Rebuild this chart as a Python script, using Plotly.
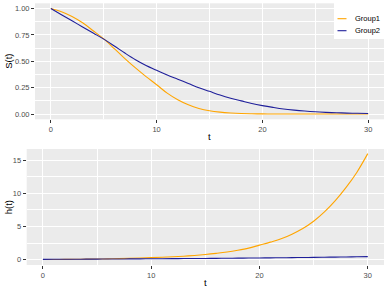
import plotly.graph_objects as go

# ---- data ----
t = list(range(0, 31))
group_names = ["Group1", "Group2"]
S_group1 = [1.0, 0.97, 0.925, 0.865, 0.79, 0.712, 0.62, 0.525, 0.437, 0.355,
            0.278, 0.198, 0.135, 0.087, 0.053, 0.031, 0.018, 0.010, 0.005, 0.0025,
            0.001, 0.0005, 0.0002, 0.0001, 0.0, 0.0, 0.0, 0.0, 0.0, 0.0, 0.0]
S_group2 = [1.0, 0.942, 0.884, 0.826, 0.768, 0.71, 0.645, 0.578, 0.515, 0.46,
            0.415, 0.37, 0.33, 0.29, 0.25, 0.215, 0.18, 0.15, 0.125, 0.10,
            0.08, 0.063, 0.048, 0.037, 0.028, 0.021, 0.016, 0.012, 0.009, 0.007, 0.005]
h_group1 = [0.02, 0.03, 0.045, 0.06, 0.08, 0.10, 0.13, 0.16, 0.20, 0.25,
            0.31, 0.37, 0.44, 0.53, 0.64, 0.78, 0.95, 1.15, 1.42, 1.75,
            2.2, 2.65, 3.15, 3.85, 4.7, 5.8, 7.2, 8.9, 10.9, 13.2, 16.0]
h_group2 = [0.05, 0.058, 0.066, 0.074, 0.082, 0.09, 0.1, 0.11, 0.12, 0.13,
            0.14, 0.15, 0.16, 0.17, 0.18, 0.19, 0.203, 0.216, 0.23, 0.245,
            0.26, 0.277, 0.294, 0.312, 0.331, 0.35, 0.371, 0.392, 0.414, 0.437, 0.46]
x_ticks = [0, 10, 20, 30]
S_ticks = [0.0, 0.25, 0.5, 0.75, 1.0]
h_ticks = [0, 5, 10, 15]

# ---- styles ----
COL1 = "#FFA500"
COL2 = "#1F1F9A"
PANEL = "#EBEBEB"
FONT = "Liberation Sans, Arial, sans-serif"
W, H = 388, 291

fig = go.Figure()
for name, col, s, h in [(group_names[0], COL1, S_group1, h_group1),
                        (group_names[1], COL2, S_group2, h_group2)]:
    fig.add_trace(go.Scatter(x=t, y=s, mode="lines", name=name, xaxis="x", yaxis="y",
                             line=dict(color=col, width=1.1, shape="spline"), showlegend=False))
    fig.add_trace(go.Scatter(x=t, y=h, mode="lines", name=name, xaxis="x2", yaxis="y2",
                             line=dict(color=col, width=1.1, shape="spline"), showlegend=False))

def px(x):
    return x / W

def py(y):
    return 1 - y / H

common = dict(showline=False, zeroline=False, ticks="outside", ticklen=3, tickwidth=0.6,
              tickcolor="#333333", showgrid=True, gridcolor="white", gridwidth=1.1,
              tickfont=dict(family=FONT, size=7.5, color="#4D4D4D"), automargin=False,
              fixedrange=True)

fig.update_layout(
    width=W, height=H, margin=dict(l=0, r=0, t=0, b=0),
    paper_bgcolor="white", plot_bgcolor=PANEL, template="none",
    hovermode=False,
    xaxis=dict(domain=[px(35), px(384)], range=[-1.5, 31.5], anchor="y",
               tickvals=x_ticks, ticktext=[str(v) for v in x_ticks],
               minor=dict(dtick=5, tick0=0, showgrid=True, gridcolor="white", gridwidth=0.5, ticks=""),
               **common),
    yaxis=dict(domain=[py(119.3), py(3.3)], range=[-0.05, 1.05], anchor="x",
               tickvals=S_ticks, ticktext=["%.2f" % v for v in S_ticks],
               minor=dict(dtick=0.125, tick0=0, showgrid=True, gridcolor="white", gridwidth=0.5, ticks=""),
               **common),
    xaxis2=dict(domain=[px(26.7), px(384)], range=[-1.5, 31.5], anchor="y2",
                tickvals=x_ticks, ticktext=[str(v) for v in x_ticks],
                minor=dict(dtick=5, tick0=0, showgrid=True, gridcolor="white", gridwidth=0.5, ticks=""),
                **common),
    yaxis2=dict(domain=[py(265), py(149)], range=[-0.8, 16.7], anchor="x2",
                tickvals=h_ticks, ticktext=[str(v) for v in h_ticks],
                minor=dict(dtick=2.5, tick0=0, showgrid=True, gridcolor="white", gridwidth=0.5, ticks=""),
                **common),
)

title_font = dict(family=FONT, size=9.5, color="black")
annots = [
    dict(text="S(t)", x=px(8.3), y=py(61.5), textangle=-90),
    dict(text="t", x=px(209.5), y=py(136.5)),
    dict(text="h(t)", x=px(8.3), y=py(207), textangle=-90),
    dict(text="t", x=px(205.3), y=py(282.5)),
]
for a in annots:
    fig.add_annotation(xref="paper", yref="paper", xanchor="center", yanchor="middle",
                       showarrow=False, font=title_font, **a)

# legend (inside, top right)
fig.add_shape(type="rect", xref="paper", yref="paper", x0=px(334), x1=px(384), y0=py(39), y1=py(3),
              fillcolor="white", line=dict(width=0), layer="above")
for i, (name, col) in enumerate(zip(group_names, [COL1, COL2])):
    yy = 18.7 + 12 * i
    fig.add_shape(type="line", xref="paper", yref="paper", x0=px(337.5), x1=px(346.5),
                  y0=py(yy), y1=py(yy), line=dict(color=col, width=1.1), layer="above")
    fig.add_annotation(xref="paper", yref="paper", x=px(352.5), y=py(yy), xanchor="left",
                       yanchor="middle", showarrow=False, text=name,
                       font=dict(family=FONT, size=7.5, color="black"))

fig.write_html("out.html", config={"displayModeBar": False},
               post_script="document.body.style.margin='0';document.body.style.overflow='hidden';")
